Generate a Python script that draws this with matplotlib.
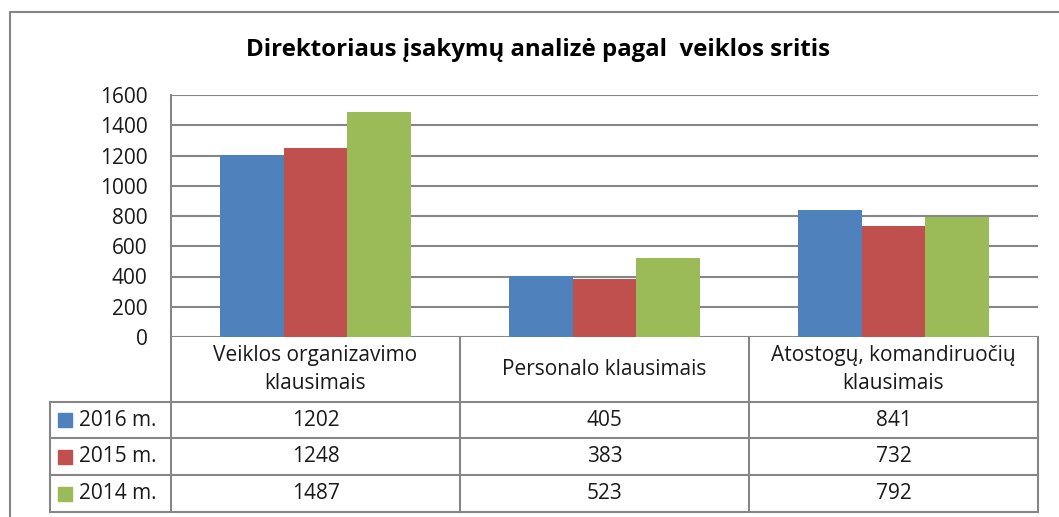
import numpy as np
import matplotlib.pyplot as plt

# data
categories = ['Veiklos organizavimo\nklausimais', 'Personalo klausimais',
              'Atostogų, komandiruočių\nklausimais']
series = ['2016 m.', '2015 m.', '2014 m.']
values_2016 = [1202, 405, 841]
values_2015 = [1248, 383, 732]
values_2014 = [1487, 523, 792]
yticks = [0, 200, 400, 600, 800, 1000, 1200, 1400, 1600]

colors = ['#4F81BD', '#C0504D', '#9BBB59']
grid_c = '#868686'
txt_c = '#1a1a1a'
plt.rcParams['font.family'] = ['Open Sans', 'DejaVu Sans']
fs = 15

W, H = 1059, 517
fig = plt.figure(figsize=(W / 100, H / 100), dpi=100)

# overlay in pixel coordinates for border, title and data table
ov = fig.add_axes([0, 0, 1, 1])
ov.set_xlim(0, W)
ov.set_ylim(H, 0)
ov.axis('off')
ov.plot([10, 10, W + 5], [H + 5, 12, 12], color=grid_c, lw=1.5)
ov.text(538, 50, 'Direktoriaus įsakymų analizė pagal  veiklos sritis',
        ha='center', va='center', fontsize=17.3, fontweight='bold', color='#000000')

# plot area
left, right, top, bottom = 171, 1038, 95, 337
ax = fig.add_axes([left / W, (H - bottom) / H, (right - left) / W, (bottom - top) / H])
x = np.arange(len(categories))
bw = 0.22
all_vals = [values_2016, values_2015, values_2014]
for i, (vals, c) in enumerate(zip(all_vals, colors)):
    ax.bar(x + (i - 1) * bw, vals, bw, color=c, zorder=3)
ax.set_xlim(-0.5, len(categories) - 0.5)
ax.set_ylim(0, 1600)
ax.set_yticks(yticks)
ax.set_yticklabels([str(t) for t in yticks], fontsize=fs, color=txt_c)
ax.tick_params(axis='y', length=0, pad=17)
ax.set_xticks([])
ax.grid(axis='y', color=grid_c, lw=1.5, zorder=0)
for s in ['top', 'right', 'bottom']:
    ax.spines[s].set_visible(False)
ax.spines['left'].set_color(grid_c)
ax.spines['left'].set_linewidth(1.5)

# data table
col_w = (right - left) / len(categories)
col_edges = [left + k * col_w for k in range(len(categories) + 1)]
header_bot = 402
row_edges = [402, 438, 475, 512]
key_left = 50
lk = dict(color=grid_c, lw=1.5)
for xe in col_edges:
    ov.plot([xe, xe], [bottom, row_edges[-1]], **lk)
ov.plot([key_left, key_left], [row_edges[0], row_edges[-1]], **lk)
for ye in row_edges:
    ov.plot([key_left, right], [ye, ye], **lk)
for k, cat in enumerate(categories):
    cx = (col_edges[k] + col_edges[k + 1]) / 2
    ov.text(cx, (bottom + header_bot) / 2, cat, ha='center', va='center',
            fontsize=fs, color=txt_c, linespacing=1.38)
for r, (name, vals, c) in enumerate(zip(series, all_vals, colors)):
    cy = (row_edges[r] + row_edges[r + 1]) / 2
    ov.add_patch(plt.Rectangle((58, cy - 7), 14, 14, color=c))
    ov.text(79, cy, name, ha='left', va='center', fontsize=fs, color=txt_c)
    for k, v in enumerate(vals):
        cx = (col_edges[k] + col_edges[k + 1]) / 2
        ov.text(cx, cy, str(v), ha='center', va='center', fontsize=fs, color=txt_c)

fig.savefig('out.png', dpi=100)
